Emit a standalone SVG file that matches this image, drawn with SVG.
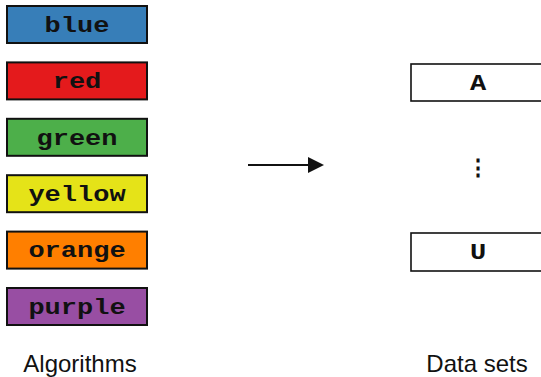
<svg xmlns="http://www.w3.org/2000/svg" width="541" height="377" viewBox="0 0 541 377">
  <style>
    .algo rect { stroke: #111; stroke-width: 2; }
    .data rect { fill: #fff; stroke: #111; stroke-width: 1.6; }
    .mono { font-family: "Liberation Mono", "Courier New", monospace; font-weight: bold; font-size: 22px; fill: #111; text-anchor: middle; }
    .caption { font-family: "Liberation Sans", Arial, sans-serif; font-size: 24px; fill: #111; text-anchor: middle; }
    .edge { stroke: #111; stroke-width: 2; fill: none; }
  </style>
  <defs>
    <marker id="head" markerWidth="16" markerHeight="16" refX="0" refY="8" orient="auto" markerUnits="userSpaceOnUse">
      <path d="M0,0 L16,8 L0,16 Z" fill="#111"/>
    </marker>
  </defs>

  <!-- algorithms column -->
  <g id="blue" class="algo">
    <rect x="7" y="6" width="140" height="37" fill="#377eb8"/>
    <text class="mono" x="77" y="31.7" textLength="64.8" lengthAdjust="spacingAndGlyphs">blue</text>
  </g>
  <g id="red" class="algo">
    <rect x="7" y="62.4" width="140" height="37" fill="#e41a1c"/>
    <text class="mono" x="77" y="88.1" textLength="48.6" lengthAdjust="spacingAndGlyphs">red</text>
  </g>
  <g id="green" class="algo">
    <rect x="7" y="118.8" width="140" height="37" fill="#4daf4a"/>
    <text class="mono" x="77" y="144.5" textLength="81" lengthAdjust="spacingAndGlyphs">green</text>
  </g>
  <g id="yellow" class="algo">
    <rect x="7" y="175.2" width="140" height="37" fill="#e5e318"/>
    <text class="mono" x="77" y="200.9" textLength="97.2" lengthAdjust="spacingAndGlyphs">yellow</text>
  </g>
  <g id="orange" class="algo">
    <rect x="7" y="231.6" width="140" height="37" fill="#ff7f00"/>
    <text class="mono" x="77" y="257.3" textLength="97.2" lengthAdjust="spacingAndGlyphs">orange</text>
  </g>
  <g id="purple" class="algo">
    <rect x="7" y="288" width="140" height="37" fill="#984ea3"/>
    <text class="mono" x="77" y="313.7" textLength="97.2" lengthAdjust="spacingAndGlyphs">purple</text>
  </g>

  <!-- data sets column -->
  <g id="dataset-A" class="data">
    <rect x="411" y="64" width="136" height="37"/>
    <text class="mono" x="478" y="89.7" textLength="16.2" lengthAdjust="spacingAndGlyphs">A</text>
  </g>
  <g id="dataset-gap">
    <text class="mono" x="478" y="175">⋮</text>
  </g>
  <g id="dataset-U" class="data">
    <rect x="411" y="233" width="136" height="38"/>
    <text class="mono" x="478" y="259.2" textLength="16.2" lengthAdjust="spacingAndGlyphs">U</text>
  </g>

  <!-- connectors -->
  <g id="connectors">
    <line class="edge" x1="248" y1="165" x2="308" y2="165" marker-end="url(#head)"/>
  </g>

  <!-- captions -->
  <text class="caption" x="80" y="372">Algorithms</text>
  <text class="caption" x="477" y="372">Data sets</text>
</svg>
